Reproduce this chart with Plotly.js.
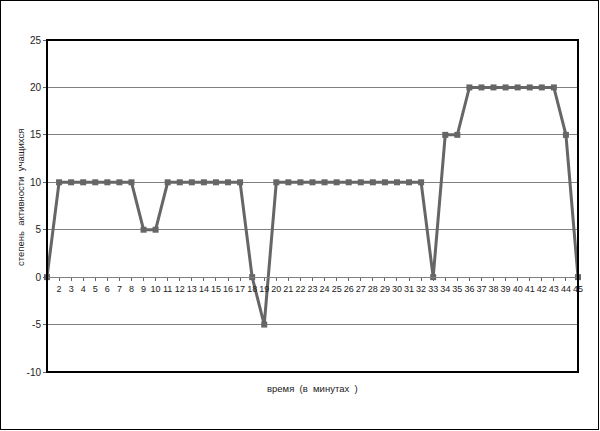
<!DOCTYPE html>
<html>
<head>
<meta charset="utf-8">
<script src="https://cdn.plot.ly/plotly-3.0.1.min.js"></script>
<style>
  html, body { margin: 0; padding: 0; background: #fff; }
  #wrap { position: relative; width: 600px; height: 431px; }
  #chart { width: 600px; height: 431px; }
  #frame { position: absolute; left: 0; top: 0; width: 599px; height: 430px; box-sizing: border-box; border: 1px solid #000; pointer-events: none; }
</style>
</head>
<body>
<div id="wrap"><div id="chart"></div><div id="frame"></div></div>
<script>
const minutes = [1,2,3,4,5,6,7,8,9,10,11,12,13,14,15,16,17,18,19,20,21,22,23,24,25,26,27,28,29,30,31,32,33,34,35,36,37,38,39,40,41,42,43,44,45];
const activity = [0,10,10,10,10,10,10,10,5,5,10,10,10,10,10,10,10,0,-5,10,10,10,10,10,10,10,10,10,10,10,10,10,0,15,15,20,20,20,20,20,20,20,20,15,0];
const tickLabels = ["","2","3","4","5","6","7","8","9","10","11","12","13","14","15","16","17","18","19","20","21","22","23","24","25","26","27","28","29","30","31","32","33","34","35","36","37","38","39","40","41","42","43","44","45"];
const yTicks = [-10,-5,0,5,10,15,20,25];
const yTitle = "степень\u00a0\u00a0активности\u00a0\u00a0учащихся";
const xTitle = "время\u00a0\u00a0(в\u00a0\u00a0минутах\u00a0\u00a0)";

const fam = "Liberation Sans, Arial, sans-serif";
const font = { family: fam, size: 10, color: "#222" };
const xTickFont = { family: fam, size: 9, color: "#222" };
const titleFont = { family: fam, size: 9.5, color: "#222" };

const trace = {
  x: minutes, y: activity, type: "scatter", mode: "lines+markers",
  line: { color: "#666666", width: 3 },
  marker: { symbol: "square", size: 6, color: "#666666" },
  cliponaxis: false, hoverinfo: "skip"
};

const layout = {
  width: 600, height: 431,
  margin: { l: 47, r: 22, t: 40, b: 59 },
  paper_bgcolor: "#fff", plot_bgcolor: "#fff",
  font: font, showlegend: false,
  xaxis: {
    type: "linear", range: [1, 45], anchor: "free", position: 10/35,
    tickmode: "array", tickvals: minutes, ticktext: tickLabels,
    ticks: "outside", ticklen: 3, tickcolor: "#666", tickwidth: 1,
    showline: true, linecolor: "#808080", linewidth: 1,
    showgrid: false, zeroline: false, tickfont: xTickFont, tickangle: 0
  },
  yaxis: {
    range: [-10, 25], tickmode: "array", tickvals: yTicks, ticktext: yTicks.map(String),
    ticks: "outside", ticklen: 3, tickcolor: "#666",
    showgrid: true, gridcolor: "#808080", gridwidth: 1,
    zeroline: false, showline: false, tickfont: font
  },
  shapes: [{ type: "rect", xref: "paper", yref: "paper", x0: 0, x1: 1, y0: 0, y1: 1, line: { color: "#000", width: 2 }, layer: "above" }],
  annotations: [
    { text: yTitle, xref: "paper", yref: "paper", x: -0.051, y: 0.527, xanchor: "center", yanchor: "middle", textangle: -90, showarrow: false, font: titleFont },
    { text: xTitle, xref: "paper", yref: "paper", x: 0.5, y: -0.051, xanchor: "center", yanchor: "middle", showarrow: false, font: titleFont }
  ]
};

Plotly.newPlot("chart", [trace], layout, { displayModeBar: false, staticPlot: true });
</script>
</body>
</html>
